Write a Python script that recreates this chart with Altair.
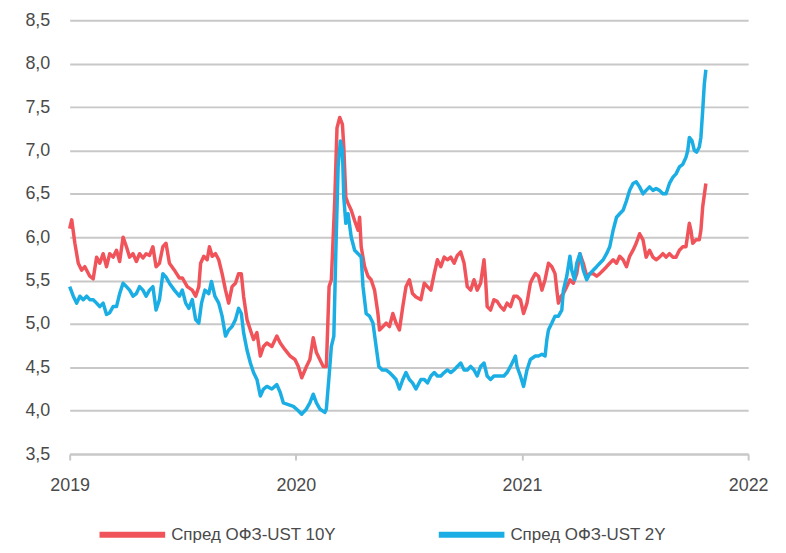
import altair as alt
import pandas as pd

series_names = ["Спред ОФЗ-UST 10Y", "Спред ОФЗ-UST 2Y"]
series_colors = ["#F0545A", "#1BAEE4"]

red_t = [2019.000, 2019.009, 2019.023, 2019.038, 2019.053, 2019.067, 2019.089, 2019.104, 2019.119, 2019.133,
         2019.148, 2019.163, 2019.177, 2019.192, 2019.207, 2019.221, 2019.236, 2019.251, 2019.265, 2019.280,
         2019.295, 2019.309, 2019.324, 2019.338, 2019.353, 2019.368, 2019.382, 2019.397, 2019.412, 2019.426,
         2019.441, 2019.463, 2019.485, 2019.498, 2019.520, 2019.542, 2019.557, 2019.571, 2019.579, 2019.593,
         2019.608, 2019.618, 2019.630, 2019.645, 2019.659, 2019.674, 2019.689, 2019.703, 2019.718, 2019.733,
         2019.747, 2019.759, 2019.769, 2019.784, 2019.799, 2019.813, 2019.828, 2019.843, 2019.857, 2019.872,
         2019.894, 2019.916, 2019.931, 2019.953, 2019.975, 2019.996, 2020.011, 2020.026, 2020.047, 2020.062,
         2020.077, 2020.091, 2020.106, 2020.121, 2020.135, 2020.147, 2020.157, 2020.172, 2020.182, 2020.194,
         2020.206, 2020.212, 2020.221, 2020.231, 2020.245, 2020.260, 2020.275, 2020.282, 2020.289, 2020.304,
         2020.319, 2020.333, 2020.348, 2020.363, 2020.370, 2020.385, 2020.399, 2020.414, 2020.429, 2020.443,
         2020.458, 2020.473, 2020.487, 2020.502, 2020.516, 2020.531, 2020.553, 2020.568, 2020.582, 2020.597,
         2020.612, 2020.626, 2020.641, 2020.656, 2020.670, 2020.685, 2020.700, 2020.714, 2020.729, 2020.744,
         2020.758, 2020.773, 2020.788, 2020.802, 2020.817, 2020.832, 2020.839, 2020.846, 2020.861, 2020.876,
         2020.890, 2020.905, 2020.920, 2020.934, 2020.949, 2020.964, 2020.978, 2020.993, 2021.007, 2021.022,
         2021.037, 2021.044, 2021.059, 2021.073, 2021.088, 2021.102, 2021.117, 2021.132, 2021.146, 2021.154,
         2021.161, 2021.173, 2021.183, 2021.198, 2021.212, 2021.227, 2021.242, 2021.256, 2021.271, 2021.286,
         2021.300, 2021.315, 2021.330, 2021.344, 2021.359, 2021.374, 2021.388, 2021.403, 2021.418, 2021.432,
         2021.447, 2021.462, 2021.476, 2021.491, 2021.505, 2021.520, 2021.535, 2021.549, 2021.564, 2021.579,
         2021.593, 2021.608, 2021.623, 2021.637, 2021.652, 2021.667, 2021.681, 2021.696, 2021.711, 2021.725,
         2021.740, 2021.747, 2021.755, 2021.769, 2021.784, 2021.791, 2021.799, 2021.813]
red_v = [6.10, 6.20, 5.93, 5.70, 5.62, 5.66, 5.55, 5.52, 5.77, 5.70,
         5.81, 5.66, 5.81, 5.77, 5.85, 5.72, 6.00, 5.89, 5.77, 5.81,
         5.72, 5.81, 5.76, 5.81, 5.79, 5.89, 5.66, 5.70, 5.89, 5.93,
         5.70, 5.62, 5.53, 5.53, 5.43, 5.39, 5.32, 5.43, 5.70, 5.78,
         5.74, 5.89, 5.78, 5.81, 5.74, 5.58, 5.39, 5.24, 5.43, 5.47,
         5.58, 5.58, 5.32, 5.05, 4.93, 4.82, 4.90, 4.63, 4.74, 4.78,
         4.74, 4.86, 4.78, 4.70, 4.63, 4.59, 4.51, 4.38, 4.51, 4.59,
         4.84, 4.67, 4.59, 4.51, 4.51, 5.43, 5.51, 6.42, 7.26, 7.38,
         7.30, 7.04, 6.46, 6.39, 6.31, 6.19, 6.08, 6.23, 5.89, 5.66,
         5.55, 5.51, 5.39, 5.12, 4.93, 4.97, 5.01, 4.97, 5.12, 5.01,
         4.93, 5.20, 5.43, 5.51, 5.35, 5.31, 5.28, 5.47, 5.43, 5.39,
         5.58, 5.74, 5.66, 5.77, 5.74, 5.77, 5.70, 5.79, 5.83, 5.70,
         5.43, 5.39, 5.51, 5.39, 5.47, 5.74, 5.51, 5.20, 5.16, 5.28,
         5.26, 5.20, 5.16, 5.24, 5.20, 5.32, 5.32, 5.28, 5.12, 5.24,
         5.47, 5.51, 5.58, 5.55, 5.39, 5.51, 5.70, 5.66, 5.58, 5.39,
         5.24, 5.32, 5.35, 5.43, 5.51, 5.47, 5.58, 5.81, 5.70, 5.55,
         5.58, 5.58, 5.55, 5.58, 5.62, 5.66, 5.70, 5.74, 5.70, 5.78,
         5.74, 5.66, 5.78, 5.85, 5.93, 6.04, 5.97, 5.77, 5.85, 5.77,
         5.74, 5.77, 5.81, 5.77, 5.81, 5.77, 5.77, 5.85, 5.89, 5.89,
         6.16, 6.08, 5.93, 5.97, 5.97, 6.08, 6.35, 6.62]

blue_t = [2019.000, 2019.016, 2019.031, 2019.045, 2019.060, 2019.075, 2019.089, 2019.104, 2019.119, 2019.133,
          2019.148, 2019.163, 2019.177, 2019.192, 2019.207, 2019.221, 2019.236, 2019.251, 2019.265, 2019.280,
          2019.295, 2019.309, 2019.324, 2019.338, 2019.353, 2019.368, 2019.382, 2019.397, 2019.412, 2019.426,
          2019.441, 2019.463, 2019.485, 2019.498, 2019.513, 2019.527, 2019.542, 2019.557, 2019.571, 2019.583,
          2019.598, 2019.615, 2019.627, 2019.642, 2019.659, 2019.674, 2019.689, 2019.703, 2019.718, 2019.733,
          2019.747, 2019.759, 2019.769, 2019.784, 2019.799, 2019.813, 2019.828, 2019.843, 2019.857, 2019.872,
          2019.894, 2019.916, 2019.931, 2019.945, 2019.967, 2019.989, 2020.011, 2020.026, 2020.047, 2020.062,
          2020.077, 2020.091, 2020.106, 2020.128, 2020.135, 2020.147, 2020.157, 2020.168, 2020.177, 2020.187,
          2020.197, 2020.206, 2020.212, 2020.221, 2020.231, 2020.245, 2020.260, 2020.275, 2020.289, 2020.297,
          2020.311, 2020.326, 2020.341, 2020.355, 2020.367, 2020.382, 2020.399, 2020.414, 2020.429, 2020.443,
          2020.458, 2020.473, 2020.487, 2020.502, 2020.516, 2020.531, 2020.553, 2020.568, 2020.582, 2020.597,
          2020.612, 2020.626, 2020.641, 2020.656, 2020.670, 2020.685, 2020.700, 2020.714, 2020.729, 2020.744,
          2020.758, 2020.773, 2020.788, 2020.802, 2020.817, 2020.832, 2020.846, 2020.861, 2020.876, 2020.890,
          2020.905, 2020.920, 2020.934, 2020.949, 2020.964, 2020.971, 2020.978, 2020.993, 2021.007, 2021.022,
          2021.037, 2021.059, 2021.073, 2021.088, 2021.102, 2021.110, 2021.117, 2021.132, 2021.146, 2021.161,
          2021.176, 2021.183, 2021.198, 2021.212, 2021.220, 2021.232, 2021.242, 2021.256, 2021.271, 2021.286,
          2021.300, 2021.315, 2021.330, 2021.344, 2021.359, 2021.374, 2021.388, 2021.403, 2021.418, 2021.432,
          2021.447, 2021.462, 2021.476, 2021.491, 2021.505, 2021.520, 2021.535, 2021.549, 2021.564, 2021.579,
          2021.593, 2021.608, 2021.623, 2021.637, 2021.652, 2021.667, 2021.681, 2021.696, 2021.711, 2021.725,
          2021.733, 2021.740, 2021.752, 2021.762, 2021.772, 2021.784, 2021.791, 2021.799, 2021.806, 2021.813]
blue_v = [5.43, 5.32, 5.24, 5.32, 5.28, 5.32, 5.28, 5.28, 5.24, 5.20,
          5.24, 5.11, 5.13, 5.20, 5.20, 5.35, 5.47, 5.43, 5.39, 5.32,
          5.35, 5.43, 5.39, 5.32, 5.39, 5.43, 5.16, 5.28, 5.58, 5.54,
          5.47, 5.39, 5.32, 5.39, 5.24, 5.18, 5.28, 5.05, 5.01, 5.24,
          5.39, 5.35, 5.49, 5.32, 5.24, 5.09, 4.86, 4.93, 4.97, 5.05,
          5.18, 5.12, 4.90, 4.70, 4.55, 4.44, 4.36, 4.17, 4.25, 4.28,
          4.25, 4.30, 4.21, 4.09, 4.07, 4.05, 4.00, 3.96, 4.02, 4.09,
          4.19, 4.09, 4.02, 3.98, 4.02, 4.40, 4.74, 4.86, 5.85, 6.81,
          7.11, 7.00, 6.46, 6.16, 6.27, 6.00, 5.85, 5.81, 5.77, 5.43,
          5.12, 5.09, 5.01, 4.74, 4.51, 4.47, 4.47, 4.44, 4.40, 4.36,
          4.25, 4.36, 4.44, 4.36, 4.32, 4.25, 4.36, 4.36, 4.32, 4.40,
          4.44, 4.40, 4.40, 4.44, 4.47, 4.44, 4.47, 4.51, 4.55, 4.47,
          4.47, 4.51, 4.47, 4.40, 4.51, 4.55, 4.40, 4.36, 4.40, 4.40,
          4.40, 4.40, 4.44, 4.51, 4.59, 4.63, 4.51, 4.40, 4.28, 4.47,
          4.59, 4.63, 4.63, 4.65, 4.63, 4.82, 4.93, 5.01, 5.09, 5.09,
          5.16, 5.39, 5.55, 5.78, 5.62, 5.51, 5.70, 5.81, 5.62, 5.51,
          5.58, 5.62, 5.66, 5.70, 5.74, 5.81, 5.89, 6.08, 6.23, 6.27,
          6.31, 6.42, 6.54, 6.62, 6.64, 6.58, 6.50, 6.54, 6.58, 6.54,
          6.56, 6.54, 6.50, 6.50, 6.62, 6.69, 6.73, 6.81, 6.84, 6.92,
          7.00, 7.15, 7.11, 7.00, 6.98, 7.04, 7.15, 7.46, 7.76, 7.93]

x_ticks = [2019, 2020, 2021, 2022]
y_ticks = [3.5, 4.0, 4.5, 5.0, 5.5, 6.0, 6.5, 7.0, 7.5, 8.0, 8.5]

df = pd.concat([
    pd.DataFrame({"t": red_t, "v": red_v, "s": series_names[0], "o": 0}),
    pd.DataFrame({"t": blue_t, "v": blue_v, "s": series_names[1], "o": 1}),
], ignore_index=True)

FONT = "Liberation Sans"
GRID = "#c8c8c8"
LABEL = "#4a4a4a"

chart = alt.Chart(df).mark_line(strokeWidth=3.5, strokeJoin="round").encode(
    x=alt.X("t:Q",
            scale=alt.Scale(domain=[2019, 2022], nice=False, zero=False),
            axis=alt.Axis(values=x_ticks, format="d", title=None, grid=False,
                          labelFlush=False, labelFont=FONT, labelFontSize=18,
                          labelColor=LABEL, labelPadding=17,
                          domain=True, domainColor=GRID, domainWidth=2,
                          ticks=True, tickColor=GRID, tickWidth=2, tickSize=6)),
    y=alt.Y("v:Q",
            scale=alt.Scale(domain=[3.5, 8.5], nice=False, zero=False),
            axis=alt.Axis(values=y_ticks, title=None,
                          labelExpr="replace(format(datum.value, '.1f'), '.', ',')",
                          labelFont=FONT, labelFontSize=18, labelColor=LABEL,
                          labelPadding=20, ticks=False, tickSize=0, domain=False,
                          grid=True, gridColor=GRID, gridWidth=2)),
    color=alt.Color("s:N",
                    scale=alt.Scale(domain=series_names, range=series_colors),
                    legend=alt.Legend(title=None, orient="none", direction="horizontal",
                                      legendX=27, legendY=481, padding=0,
                                      symbolType="stroke", symbolSize=4356,
                                      symbolStrokeWidth=6, labelFont=FONT,
                                      labelFontSize=17, labelColor=LABEL,
                                      labelLimit=400, labelOffset=3,
                                      columnPadding=91)),
    order=alt.Order("o:Q"),
).properties(
    width=682,
    height=436,
    autosize=alt.AutoSizeParams(type="none"),
    padding={"left": 62, "top": 11, "right": 30, "bottom": 90},
).configure_view(stroke=None)

chart.save("out.html", embed_options={"renderer": "svg", "actions": False})
